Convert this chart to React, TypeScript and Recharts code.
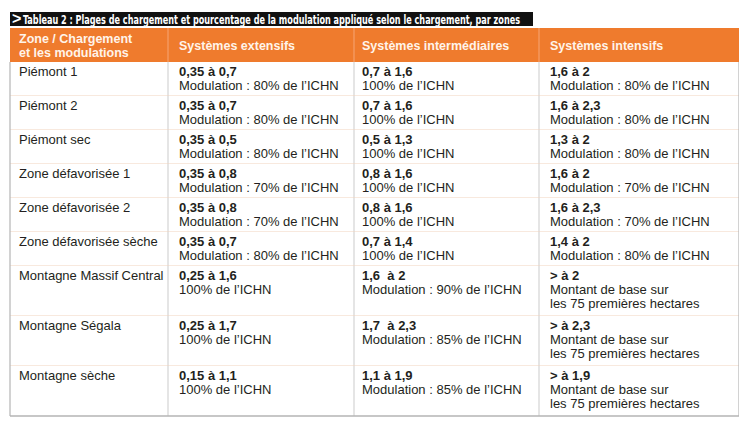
import React from 'react';
import { BarChart, Bar, XAxis, YAxis } from 'recharts';

// ---------- data ----------
const titleText =
  'Tableau 2 : Plages de chargement et pourcentage de la modulation appliqué selon le chargement, par zones';

const headerLabels = [
  'Zone / Chargement\net les modulations',
  'Systèmes extensifs',
  'Systèmes intermédiaires',
  'Systèmes intensifs',
];

const zones = [
  'Piémont 1',
  'Piémont 2',
  'Piémont sec',
  'Zone défavorisée 1',
  'Zone défavorisée 2',
  'Zone défavorisée sèche',
  'Montagne Massif Central',
  'Montagne Ségala',
  'Montagne sèche',
];

const extensifRange = [
  '0,35 à 0,7', '0,35 à 0,7', '0,35 à 0,5', '0,35 à 0,8', '0,35 à 0,8',
  '0,35 à 0,7', '0,25 à 1,6', '0,25 à 1,7', '0,15 à 1,1',
];
const extensifMod = [
  'Modulation : 80% de l’ICHN', 'Modulation : 80% de l’ICHN', 'Modulation : 80% de l’ICHN',
  'Modulation : 70% de l’ICHN', 'Modulation : 70% de l’ICHN', 'Modulation : 80% de l’ICHN',
  '100% de l’ICHN', '100% de l’ICHN', '100% de l’ICHN',
];

const intermediaireRange = [
  '0,7 à 1,6', '0,7 à 1,6', '0,5 à 1,3', '0,8 à 1,6', '0,8 à 1,6',
  '0,7 à 1,4', '1,6  à 2', '1,7  à 2,3', '1,1 à 1,9',
];
const intermediaireMod = [
  '100% de l’ICHN', '100% de l’ICHN', '100% de l’ICHN', '100% de l’ICHN', '100% de l’ICHN',
  '100% de l’ICHN', 'Modulation : 90% de l’ICHN', 'Modulation : 85% de l’ICHN',
  'Modulation : 85% de l’ICHN',
];

const intensifRange = [
  '1,6 à 2', '1,6 à 2,3', '1,3 à 2', '1,6 à 2', '1,6 à 2,3',
  '1,4 à 2', '> à 2', '> à 2,3', '> à 1,9',
];
const intensifMod = [
  'Modulation : 80% de l’ICHN', 'Modulation : 80% de l’ICHN', 'Modulation : 80% de l’ICHN',
  'Modulation : 70% de l’ICHN', 'Modulation : 70% de l’ICHN', 'Modulation : 80% de l’ICHN',
  'Montant de base sur\nles 75 premières hectares',
  'Montant de base sur\nles 75 premières hectares',
  'Montant de base sur\nles 75 premières hectares',
];

// ---------- table model built from the arrays ----------
type Line = { t: string; bold: boolean };
const cellsFor = (i: number): Line[][] => [
  [{ t: zones[i], bold: false }],
  [{ t: extensifRange[i], bold: true }, ...extensifMod[i].split('\n').map((t) => ({ t, bold: false }))],
  [{ t: intermediaireRange[i], bold: true }, ...intermediaireMod[i].split('\n').map((t) => ({ t, bold: false }))],
  [{ t: intensifRange[i], bold: true }, ...intensifMod[i].split('\n').map((t) => ({ t, bold: false }))],
];
const rowCells = zones.map((_, i) => cellsFor(i));
const rowLines = rowCells.map((cells) => Math.max(...cells.map((c) => c.length)));
const headerLines = Math.max(...headerLabels.map((h) => h.split('\n').length));

const PAD = 0.125;
const tableRow: Record<string, number | string> = { name: 'tableau', header: headerLines + PAD };
rowLines.forEach((n, i) => {
  tableRow['r' + i] = n + PAD;
});
const chartData = [tableRow];
const totalUnits = headerLines + PAD + rowLines.reduce((s, n) => s + n + PAD, 0);

// ---------- styling / layout ----------
const FONT = "'Liberation Sans', Arial, Helvetica, sans-serif";
const ORANGE = '#ef7b2d';
const TEXT = '#231f20';
const H_LINE = '#f1d2bd';
const V_LINE = '#cbcbcb';
const BORDER = '#b4b4b4';
const colEdges = [0, 158, 344, 529]; // px from table left
const textPad = [9, 11, 8, 11];
const LINE_H = 14;

const norm = (p: any) => {
  const top = Math.min(p.y, p.y + p.height);
  const h = Math.abs(p.height);
  return { x: p.x, top, w: p.width, h };
};

const HeaderShape = (p: any) => {
  const { x, top, w, h } = norm(p);
  return (
    <g>
      {/* title bar */}
      <rect x={x} y={top - 16} width={523} height={14} fill="#111111" />
      <text x={x + 2} y={top - 4} fill="#ffffff" fontSize={16} fontWeight="bold" fontFamily={FONT}>
        {'>'}
      </text>
      <text
        x={x + 13}
        y={top - 4.5}
        fill="#ffffff"
        fontSize={12.5}
        fontWeight="bold"
        fontFamily="'DejaVu Sans Condensed', 'Liberation Sans Narrow', sans-serif"
        textLength={497}
        lengthAdjust="spacingAndGlyphs"
      >
        {titleText}
      </text>
      <rect x={x} y={top} width={w} height={h} fill={ORANGE} />
      {colEdges.slice(1).map((cx, k) => (
        <line key={k} x1={x + cx} x2={x + cx} y1={top} y2={top + h} stroke="#f6a676" strokeWidth={1} />
      ))}
      {headerLabels.map((lab, k) => {
        const lines = lab.split('\n');
        const first = top + h / 2 + 4.5 - ((lines.length - 1) * LINE_H) / 2;
        return lines.map((t, j) => (
          <text
            key={k + '-' + j}
            x={x + colEdges[k] + textPad[k]}
            y={first + j * LINE_H}
            fill="#fff4ea"
            fontSize={12.5}
            fontWeight="bold"
            fontFamily={FONT}
          >
            {t}
          </text>
        ));
      })}
    </g>
  );
};

const makeRowShape = (i: number) => (p: any) => {
  const { x, top, w, h } = norm(p);
  const last = i === zones.length - 1;
  return (
    <g>
      <rect x={x} y={top} width={w} height={h} fill="#ffffff" />
      {colEdges.slice(1).map((cx, k) => (
        <line key={k} x1={x + cx} x2={x + cx} y1={top} y2={top + h} stroke={V_LINE} strokeWidth={1} />
      ))}
      <line x1={x} x2={x + w} y1={top + h} y2={top + h} stroke={last ? BORDER : H_LINE} strokeWidth={last ? 1.5 : 1} />
      <line x1={x} x2={x} y1={top} y2={top + h} stroke={BORDER} strokeWidth={1.2} />
      <line x1={x + w} x2={x + w} y1={top} y2={top + h} stroke={BORDER} strokeWidth={1.2} />
      {rowCells[i].map((cell, k) =>
        cell.map((ln, j) => (
          <text
            key={k + '-' + j}
            x={x + colEdges[k] + textPad[k]}
            y={top + 14 + j * LINE_H}
            fill={TEXT}
            fontSize={13}
            fontWeight={ln.bold ? 'bold' : 'normal'}
            fontFamily={FONT}
            style={{ whiteSpace: 'pre' }}
          >
            {ln.t}
          </text>
        ))
      )}
    </g>
  );
};

export default function App() {
  return (
    <div style={{ width: 739, height: 415, background: '#ffffff' }}>
      <BarChart
        width={739}
        height={415}
        data={chartData}
        margin={{ top: 20, right: 8, bottom: 7, left: 2 }}
        barCategoryGap={0}
        barGap={0}
        style={{ overflow: 'visible' }}
      >
        <XAxis dataKey="name" type="category" hide padding={{ left: 0, right: 0 }} />
        <YAxis type="number" domain={[0, totalUnits]} reversed hide />
        <Bar dataKey="header" stackId="t" isAnimationActive={false} shape={HeaderShape} />
        {zones.map((z, i) => (
          <Bar key={z} dataKey={'r' + i} stackId="t" isAnimationActive={false} shape={makeRowShape(i)} />
        ))}
      </BarChart>
    </div>
  );
}
